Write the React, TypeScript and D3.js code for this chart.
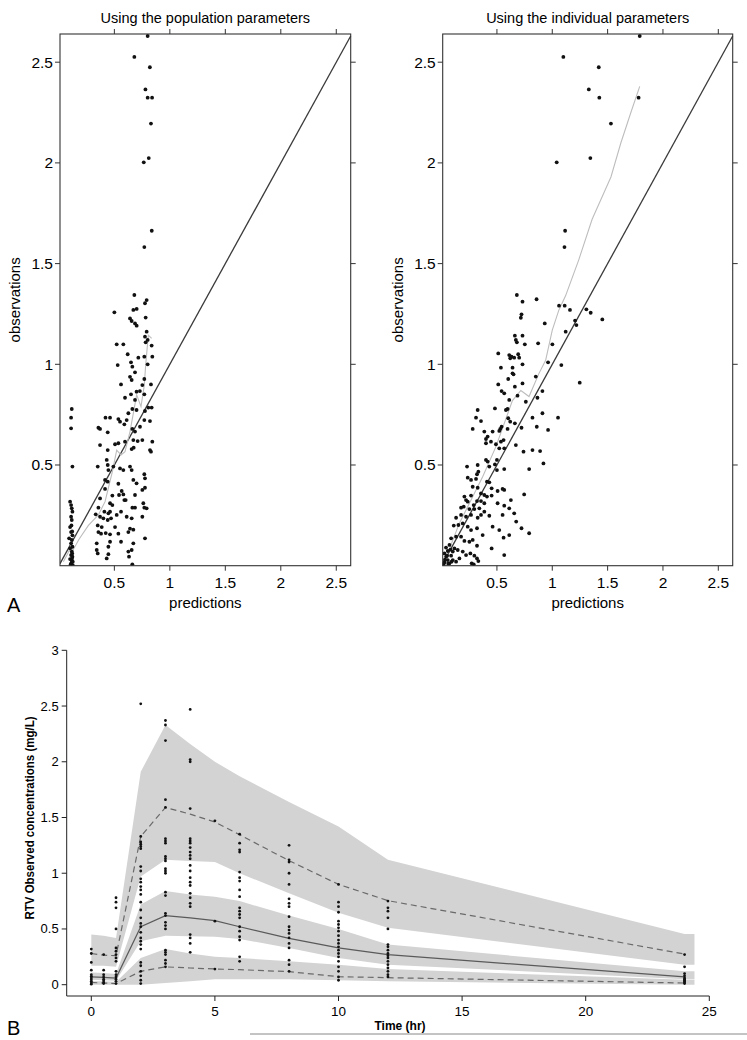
import React from "react";
import * as d3 from "d3";

// ---------- Panel A data (predictions, observations) ----------
const popPoints: [number, number][] = [
  [0.8, 2.63], [0.68, 2.526], [0.82, 2.475], [0.78, 2.365], [0.8, 2.324], [0.84, 2.324], [0.83, 2.195],
  [0.81, 2.024], [0.765, 2.003], [0.837, 1.663], [0.77, 1.582],
  [0.68, 1.344], [0.791, 1.319], [0.776, 1.303], [0.701, 1.275], [0.671, 1.27], [0.5, 1.258], [0.782, 1.232],
  [0.641, 1.228], [0.656, 1.215], [0.686, 1.203], [0.701, 1.192], [0.791, 1.162], [0.776, 1.137], [0.8, 1.121],
  [0.782, 1.109], [0.521, 1.099], [0.581, 1.099], [0.836, 1.093], [0.62, 1.05], [0.716, 1.033], [0.77, 1.038],
  [0.842, 1.038], [0.65, 1.01], [0.662, 0.988], [0.53, 0.996], [0.8, 1.0], [0.686, 0.96], [0.641, 0.938],
  [0.656, 0.922], [0.56, 0.9], [0.77, 0.927], [0.752, 0.897], [0.83, 0.9], [0.7, 0.864], [0.73, 0.867],
  [0.65, 0.851], [0.77, 0.851], [0.596, 0.834], [0.686, 0.823], [0.836, 0.785], [0.806, 0.785], [0.662, 0.778],
  [0.7, 0.773], [0.626, 0.757], [0.776, 0.768], [0.356, 0.685], [0.371, 0.679], [0.42, 0.735], [0.461, 0.735],
  [0.536, 0.728], [0.551, 0.715], [0.44, 0.662], [0.59, 0.702], [0.611, 0.723], [0.77, 0.723], [0.821, 0.718],
  [0.662, 0.679], [0.731, 0.69], [0.686, 0.666], [0.671, 0.624], [0.71, 0.619], [0.752, 0.624], [0.842, 0.616],
  [0.536, 0.608], [0.506, 0.603], [0.596, 0.616], [0.656, 0.579], [0.674, 0.586], [0.371, 0.599], [0.44, 0.574],
  [0.821, 0.574], [0.83, 0.566], [0.431, 0.525], [0.44, 0.5], [0.491, 0.492], [0.35, 0.492], [0.446, 0.475],
  [0.551, 0.483], [0.581, 0.475], [0.641, 0.492], [0.656, 0.475], [0.77, 0.454], [0.776, 0.434], [0.416, 0.426],
  [0.44, 0.417], [0.536, 0.407], [0.671, 0.426], [0.7, 0.409], [0.776, 0.387], [0.752, 0.376], [0.416, 0.381],
  [0.566, 0.371], [0.542, 0.351], [0.581, 0.354], [0.482, 0.348], [0.59, 0.326], [0.371, 0.334], [0.461, 0.31],
  [0.482, 0.301], [0.602, 0.326], [0.686, 0.351], [0.761, 0.31], [0.77, 0.288], [0.791, 0.285], [0.356, 0.288],
  [0.41, 0.268], [0.446, 0.26], [0.461, 0.268], [0.521, 0.252], [0.56, 0.268], [0.662, 0.288], [0.686, 0.288],
  [0.332, 0.255], [0.371, 0.243], [0.401, 0.235], [0.44, 0.227], [0.47, 0.235], [0.611, 0.243], [0.656, 0.235],
  [0.752, 0.243], [0.35, 0.2], [0.386, 0.192], [0.356, 0.167], [0.38, 0.159], [0.422, 0.162], [0.461, 0.156],
  [0.506, 0.192], [0.536, 0.159], [0.641, 0.184], [0.671, 0.179], [0.626, 0.167], [0.776, 0.136], [0.341, 0.111],
  [0.446, 0.094], [0.461, 0.119], [0.56, 0.119], [0.671, 0.111], [0.341, 0.078], [0.35, 0.061], [0.446, 0.057],
  [0.626, 0.07], [0.656, 0.078], [0.431, 0.036], [0.632, 0.045], [0.662, 0.007],
  [0.116, 0.778], [0.11, 0.735], [0.11, 0.682], [0.122, 0.492], [0.101, 0.318], [0.11, 0.301], [0.116, 0.285],
  [0.122, 0.268], [0.11, 0.243], [0.116, 0.227], [0.101, 0.192], [0.11, 0.167], [0.122, 0.151], [0.092, 0.136],
  [0.116, 0.128], [0.11, 0.111], [0.122, 0.094], [0.101, 0.086], [0.116, 0.07], [0.11, 0.053], [0.122, 0.045],
  [0.101, 0.033], [0.116, 0.023], [0.11, 0.012], [0.125, 0.003], [0.12, 0.06], [0.125, 0.02], [0.105, 0.005],
  [0.118, 0.035], [0.113, 0.2], [0.12, 0.17],
];

const indPoints: [number, number][] = [
  [1.79, 2.63], [1.1, 2.526], [1.42, 2.475], [1.33, 2.365], [1.425, 2.324], [1.78, 2.324], [1.53, 2.195],
  [1.344, 2.024], [1.04, 2.003], [1.116, 1.663], [1.11, 1.582], [0.858, 1.323],
  [1.308, 1.273], [1.347, 1.256], [1.452, 1.223], [1.248, 0.909], [1.206, 1.217], [1.218, 1.195],
  [0.68, 1.344], [0.731, 1.311], [0.722, 1.248], [0.716, 1.231], [1.061, 1.291], [1.112, 1.291], [1.16, 1.27],
  [0.932, 1.203], [0.662, 1.142], [0.731, 1.142], [0.671, 1.121], [0.68, 1.109], [0.752, 1.099], [0.872, 1.104],
  [1.001, 1.099], [1.121, 1.162], [0.512, 1.054], [0.611, 1.046], [0.632, 1.038], [0.62, 1.03], [0.692, 1.05],
  [0.701, 1.033], [0.656, 1.033], [0.536, 0.983], [0.641, 0.983], [0.731, 1.0], [0.641, 0.955], [0.65, 0.95],
  [1.082, 0.996], [0.962, 1.01], [0.602, 0.927], [0.512, 0.9], [0.662, 0.889], [0.731, 0.905], [0.851, 0.939],
  [0.542, 0.867], [0.566, 0.856], [0.611, 0.823], [0.686, 0.844], [0.761, 0.814], [0.911, 0.867], [0.866, 0.834],
  [0.326, 0.773], [0.482, 0.781], [0.581, 0.773], [0.596, 0.778], [0.311, 0.735], [0.356, 0.718], [0.602, 0.732],
  [0.62, 0.715], [0.53, 0.679], [0.662, 0.707], [0.821, 0.735], [0.911, 0.757], [1.052, 0.735], [0.281, 0.679],
  [0.386, 0.666], [0.416, 0.641], [0.461, 0.666], [0.521, 0.669], [0.542, 0.69], [0.596, 0.679], [0.722, 0.685],
  [0.86, 0.69], [0.962, 0.674], [0.401, 0.629], [0.446, 0.616], [0.56, 0.624], [0.536, 0.616], [0.491, 0.603],
  [0.401, 0.608], [0.521, 0.583], [0.566, 0.583], [0.671, 0.599], [0.74, 0.566], [0.821, 0.574], [0.89, 0.569],
  [0.401, 0.525], [0.416, 0.517], [0.5, 0.525], [0.482, 0.503], [0.326, 0.5], [0.23, 0.492], [0.431, 0.492],
  [0.5, 0.475], [0.566, 0.48], [0.791, 0.48], [0.92, 0.508], [0.236, 0.437], [0.266, 0.426], [0.311, 0.431],
  [0.332, 0.467], [0.32, 0.454], [0.41, 0.417], [0.431, 0.414], [0.281, 0.392], [0.326, 0.387], [0.452, 0.384],
  [0.356, 0.359], [0.206, 0.343], [0.266, 0.348], [0.386, 0.351], [0.41, 0.343], [0.452, 0.348], [0.506, 0.371],
  [0.551, 0.381], [0.566, 0.376], [0.746, 0.354], [0.221, 0.326], [0.236, 0.318], [0.32, 0.321], [0.29, 0.301],
  [0.356, 0.321], [0.386, 0.31], [0.506, 0.31], [0.566, 0.298], [0.626, 0.326], [0.176, 0.288], [0.2, 0.293],
  [0.251, 0.281], [0.296, 0.281], [0.341, 0.285], [0.386, 0.268], [0.611, 0.285], [0.131, 0.238], [0.176, 0.252],
  [0.221, 0.243], [0.266, 0.252], [0.326, 0.238], [0.356, 0.252], [0.431, 0.248], [0.551, 0.252], [0.656, 0.26],
  [0.11, 0.199], [0.152, 0.202], [0.191, 0.21], [0.236, 0.194], [0.266, 0.177], [0.32, 0.186], [0.371, 0.152],
  [0.461, 0.194], [0.521, 0.177], [0.611, 0.152], [0.674, 0.219], [0.722, 0.186], [0.791, 0.161], [0.086, 0.136],
  [0.131, 0.144], [0.176, 0.144], [0.206, 0.123], [0.251, 0.119], [0.281, 0.128], [0.32, 0.099], [0.56, 0.139],
  [0.452, 0.086], [0.071, 0.103], [0.116, 0.086], [0.146, 0.078], [0.191, 0.07], [0.221, 0.053], [0.26, 0.061],
  [0.296, 0.05], [0.32, 0.036], [0.332, 0.023], [0.566, 0.053], [0.026, 0.061], [0.041, 0.045], [0.056, 0.028],
  [0.071, 0.012], [0.011, 0.003], [0.086, 0.05], [0.101, 0.028], [0.131, 0.02], [0.161, 0.036], [0.026, 0.017],
  [0.056, 0.073], [0.101, 0.07], [0.272, 0.012], [0.29, 0.007], [0.03, 0.03], [0.05, 0.05], [0.06, 0.01],
  [0.08, 0.08], [0.04, 0.09], [0.09, 0.02], [0.02, 0.01],
];

const popSmooth: [number, number][] = [
  [0.04, 0.02], [0.08, 0.06], [0.11, 0.1], [0.125, 0.07], [0.12, 0.03], [0.13, 0.08], [0.18, 0.13],
  [0.266, 0.2], [0.356, 0.252], [0.416, 0.318], [0.482, 0.467], [0.521, 0.574], [0.56, 0.55], [0.596, 0.566],
  [0.641, 0.666], [0.701, 0.848], [0.74, 0.79], [0.77, 0.897], [0.782, 0.996], [0.806, 1.145], [0.836, 1.129],
];
const indSmooth: [number, number][] = [
  [0.026, 0.02], [0.16, 0.21], [0.37, 0.44], [0.49, 0.59], [0.64, 0.82], [0.716, 0.87], [0.79, 0.84],
  [0.88, 0.955], [0.94, 1.02], [1.0, 1.17], [1.06, 1.27], [1.12, 1.34], [1.24, 1.52], [1.36, 1.72],
  [1.53, 1.93], [1.62, 2.1], [1.71, 2.25], [1.79, 2.38],
];
const scatterTicks = [0.5, 1, 1.5, 2, 2.5];
const scatterTickLabels = ["0.5", "1", "1.5", "2", "2.5"];

// ---------- Panel B data (VPC) ----------
const bandTime = [0, 0.5, 1, 2, 3, 4, 5, 6, 8, 10, 12, 24, 24.4];
const upperBandHi = [0.45, 0.44, 0.42, 1.91, 2.33, 2.16, 2.0, 1.87, 1.64, 1.42, 1.12, 0.455, 0.455];
const upperBandLo = [0.17, 0.17, 0.16, 0.97, 1.12, 1.11, 1.1, 1.0, 0.82, 0.645, 0.51, 0.18, 0.18];
const medianBandHi = [0.11, 0.105, 0.095, 0.72, 0.84, 0.81, 0.79, 0.75, 0.62, 0.5, 0.36, 0.12, 0.12];
const medianBandLo = [0.045, 0.04, 0.035, 0.39, 0.44, 0.435, 0.43, 0.41, 0.33, 0.24, 0.18, 0.05, 0.05];
const lowerBandHi = [0.03, 0.03, 0.025, 0.24, 0.32, 0.28, 0.25, 0.24, 0.21, 0.18, 0.14, 0.045, 0.045];
const lowerBandLo = [0, 0, 0, 0, 0.015, 0.03, 0.05, 0.05, 0.05, 0.04, 0.03, 0, 0];

const lineTime = [0, 0.5, 1, 2, 3, 4, 5, 6, 8, 10, 12, 24];
const obsP95 = [0.28, 0.265, 0.26, 1.33, 1.59, 1.53, 1.46, 1.345, 1.113, 0.9, 0.754, 0.275];
const obsP50 = [0.07, 0.065, 0.06, 0.52, 0.62, 0.6, 0.575, 0.52, 0.416, 0.33, 0.27, 0.07];
const obsP05 = [0.02, 0.015, 0.01, 0.12, 0.16, 0.15, 0.141, 0.135, 0.117, 0.072, 0.063, 0.015];

const obsTimes = [0, 0.5, 1, 2, 3, 4, 5, 6, 8, 10, 12, 24];
const obsConc: number[][] = [
  [0.32, 0.28, 0.2, 0.13, 0.09, 0.075, 0.06, 0.045, 0.03, 0.015, 0.005],
  [0.27, 0.13, 0.09, 0.07, 0.05, 0.035, 0.02, 0.01],
  [0.78, 0.74, 0.69, 0.5, 0.33, 0.3, 0.27, 0.24, 0.21, 0.12, 0.09, 0.07, 0.05, 0.03, 0.01],
  [2.52, 1.33, 1.28, 1.26, 1.24, 1.22, 1.06, 1.02, 0.95, 0.92, 0.88, 0.85, 0.81, 0.74, 0.67, 0.6, 0.55, 0.52,
    0.47, 0.42, 0.39, 0.36, 0.32, 0.2, 0.17, 0.12, 0.08, 0.04, 0.01],
  [2.37, 2.33, 2.19, 1.66, 1.59, 1.31, 1.29, 1.27, 1.15, 1.13, 1.11, 1.04, 1.02, 1.0, 0.83, 0.8, 0.64, 0.62,
    0.56, 0.53, 0.5, 0.31, 0.29, 0.27, 0.22, 0.19, 0.16],
  [2.47, 2.02, 2.0, 1.58, 1.31, 1.29, 1.27, 1.23, 1.19, 1.16, 1.13, 1.07, 1.02, 0.96, 0.92, 0.89, 0.82, 0.78,
    0.73, 0.7, 0.45, 0.42, 0.37, 0.29],
  [1.47, 0.57, 0.14],
  [1.35, 1.27, 1.21, 1.19, 1.01, 0.96, 0.93, 0.85, 0.79, 0.69, 0.66, 0.63, 0.6, 0.52, 0.48, 0.43, 0.4, 0.25, 0.21],
  [1.25, 1.12, 1.1, 1.0, 0.9, 0.77, 0.73, 0.7, 0.61, 0.52, 0.49, 0.46, 0.42, 0.37, 0.33, 0.22, 0.18, 0.12],
  [0.9, 0.74, 0.7, 0.65, 0.57, 0.54, 0.51, 0.48, 0.44, 0.4, 0.37, 0.34, 0.31, 0.28, 0.25, 0.21, 0.16, 0.12,
    0.07, 0.04],
  [0.75, 0.69, 0.66, 0.6, 0.5, 0.36, 0.34, 0.31, 0.28, 0.26, 0.24, 0.21, 0.18, 0.15, 0.12, 0.09, 0.07],
  [0.27, 0.16, 0.1, 0.08, 0.06, 0.05, 0.04, 0.03, 0.02, 0.01],
];
const vpcXTicks = [0, 5, 10, 15, 20, 25];
const vpcYTicks = [0, 0.5, 1, 1.5, 2, 2.5, 3];

const FONT = "'Liberation Sans', Arial, Helvetica, sans-serif";

type PanelProps = {
  left: number; right: number; top: number; bottom: number;
  points: [number, number][]; smooth: [number, number][];
  title: string; ylabX: number; clipId: string;
};

function ScatterPanel({ left, right, top, bottom, points, smooth, title, ylabX, clipId }: PanelProps) {
  const x = d3.scaleLinear().domain([0.01, 2.63]).range([left, right]);
  const y = d3.scaleLinear().domain([0, 2.64]).range([bottom, top]);
  const line = d3.line<[number, number]>().x((d) => x(d[0])).y((d) => y(d[1]));
  const cx = (left + right) / 2;
  const cy = (top + bottom) / 2;
  const tl = 5;
  return (
    <g fontFamily={FONT} fill="#000">
      <defs>
        <clipPath id={clipId}>
          <rect x={left} y={top - 2} width={right - left + 2} height={bottom - top + 2} />
        </clipPath>
      </defs>
      <text x={cx} y={23} textAnchor="middle" fontSize={14.5}>{title}</text>
      <g clipPath={`url(#${clipId})`}>
        <line x1={x(0.01)} y1={y(0.01)} x2={x(2.63)} y2={y(2.63)} stroke="#3a3a3a" strokeWidth={1.3} />
        <path d={line(smooth) || ""} fill="none" stroke="#bdbdbd" strokeWidth={1.1} />
        {points.map((p, i) => (
          <circle key={i} cx={x(p[0])} cy={y(p[1])} r={1.9} fill="#111" />
        ))}
      </g>
      <rect x={left} y={top} width={right - left} height={bottom - top} fill="none" stroke="#333" strokeWidth={1.1} />
      {scatterTicks.map((t, i) => (
        <g key={"tx" + i}>
          <line x1={x(t)} x2={x(t)} y1={bottom} y2={bottom + tl} stroke="#333" />
          <line x1={x(t)} x2={x(t)} y1={top} y2={top - tl} stroke="#333" />
          <text x={x(t)} y={bottom + 22} textAnchor="middle" fontSize={15.5}>{scatterTickLabels[i]}</text>
        </g>
      ))}
      {scatterTicks.map((t, i) => (
        <g key={"ty" + i}>
          <line y1={y(t)} y2={y(t)} x1={left} x2={left - tl} stroke="#333" />
          <line y1={y(t)} y2={y(t)} x1={right} x2={right + tl} stroke="#333" />
          <text x={left - 7} y={y(t) + 5.5} textAnchor="end" fontSize={15.5}>{scatterTickLabels[i]}</text>
        </g>
      ))}
      <text x={cx} y={bottom + 42} textAnchor="middle" fontSize={15}>predictions</text>
      <text transform={`translate(${ylabX},${cy}) rotate(-90)`} textAnchor="middle" fontSize={15}>observations</text>
    </g>
  );
}

function VPCPanel() {
  const x = d3.scaleLinear().domain([0, 25]).range([91.3, 709.3]);
  const y = d3.scaleLinear().domain([0, 3]).range([984.7, 650.3]);
  const area = (hi: number[], lo: number[]) =>
    d3.area<number>().x((_, i) => x(bandTime[i])).y0((_, i) => y(lo[i])).y1((_, i) => y(hi[i]))(bandTime) || "";
  const line = (vals: number[]) =>
    d3.line<number>().x((_, i) => x(lineTime[i])).y((d) => y(d))(vals) || "";
  const axisY = 996;
  const axisX = 66.7;
  return (
    <g fontFamily={FONT}>
      <path d={area(upperBandHi, upperBandLo)} fill="#d3d3d3" />
      <path d={area(medianBandHi, medianBandLo)} fill="#d3d3d3" />
      <path d={area(lowerBandHi, lowerBandLo)} fill="#d3d3d3" />
      <path d={line(obsP95)} fill="none" stroke="#6a6a6a" strokeWidth={1.2} strokeDasharray="6,4" />
      <path d={line(obsP50)} fill="none" stroke="#5a5a5a" strokeWidth={1.2} />
      <path d={line(obsP05)} fill="none" stroke="#6a6a6a" strokeWidth={1.2} strokeDasharray="6,4" />
      {obsConc.map((vals, i) =>
        vals.map((v, j) => <circle key={i + "-" + j} cx={x(obsTimes[i])} cy={y(v)} r={1.4} fill="#111" />)
      )}
      <line x1={axisX} x2={axisX} y1={y(3)} y2={axisY} stroke="#222" strokeWidth={1} />
      <line x1={axisX} x2={x(25)} y1={axisY} y2={axisY} stroke="#222" strokeWidth={1} />
      {vpcYTicks.map((t) => (
        <g key={"vy" + t}>
          <line x1={axisX - 5} x2={axisX} y1={y(t)} y2={y(t)} stroke="#222" />
          <text x={axisX - 8} y={y(t) + 4.5} textAnchor="end" fontSize={13}>{String(t)}</text>
        </g>
      ))}
      {vpcXTicks.map((t) => (
        <g key={"vx" + t}>
          <line x1={x(t)} x2={x(t)} y1={axisY} y2={axisY + 5} stroke="#222" />
          <text x={x(t)} y={axisY + 20} textAnchor="middle" fontSize={13.5}>{String(t)}</text>
        </g>
      ))}
      <text x={400} y={1030} textAnchor="middle" fontSize={12} fontWeight="bold">Time (hr)</text>
      <text transform={`translate(34,818) rotate(-90)`} textAnchor="middle" fontSize={12} fontWeight="bold"
        textLength={203} lengthAdjust="spacingAndGlyphs">RTV Observed  concentrations  (mg/L)</text>
    </g>
  );
}

export default function App() {
  return (
    <svg width={747} height={1040} viewBox="0 0 747 1040"
      style={{ position: "absolute", left: 0, top: 0, background: "#fff" }}>
      <rect x={0} y={0} width={747} height={1040} fill="#fff" />
      <ScatterPanel left={60} right={350.7} top={34} bottom={565.7} points={popPoints} smooth={popSmooth}
        title="Using the population parameters" ylabX={20} clipId="clipA1" />
      <ScatterPanel left={442.7} right={732.7} top={34} bottom={565.7} points={indPoints} smooth={indSmooth}
        title="Using the individual parameters" ylabX={403} clipId="clipA2" />
      <text x={7} y={612} fontFamily={FONT} fontSize={20}>A</text>
      <VPCPanel />
      <text x={7} y={1035} fontFamily={FONT} fontSize={20}>B</text>
      <line x1={250} x2={747} y1={1034} y2={1034} stroke="#888" strokeWidth={1} />
    </svg>
  );
}
